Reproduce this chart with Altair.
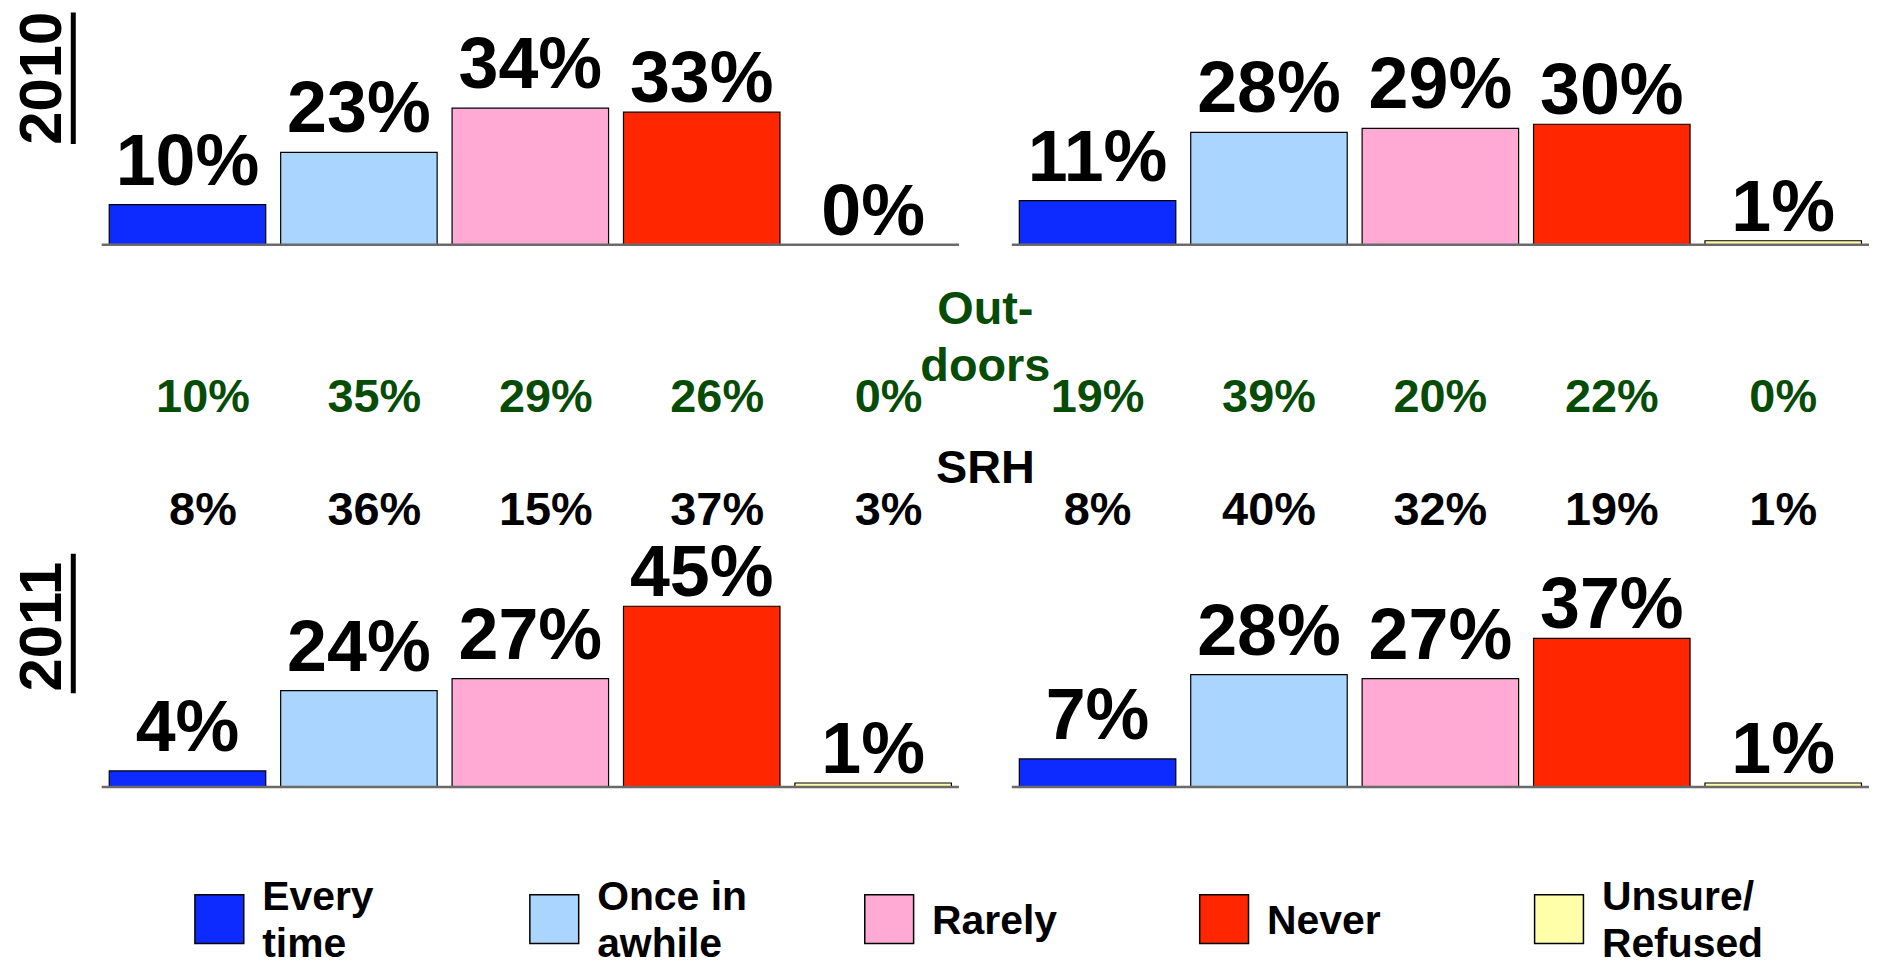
import altair as alt
import pandas as pd

# ---------------- data ----------------
categories = ["Every time", "Once in awhile", "Rarely", "Never", "Unsure/Refused"]
legend_labels = ["Every\ntime", "Once in\nawhile", "Rarely", "Never", "Unsure/\nRefused"]
sides = ["left", "right"]

pct_2010_left = [10, 23, 34, 33, 0]
pct_2010_right = [11, 28, 29, 30, 1]
pct_2011_left = [4, 24, 27, 45, 1]
pct_2011_right = [7, 28, 27, 37, 1]

outdoors_left = [10, 35, 29, 26, 0]
outdoors_right = [19, 39, 20, 22, 0]
srh_left = [8, 36, 15, 37, 3]
srh_right = [8, 40, 32, 19, 1]

measures = ["Outdoors", "SRH"]
year_labels = ["2010", "2011"]

# ---------------- style ----------------
FONT = "Liberation Sans"
bar_colors = ["#0d2bff", "#aad5ff", "#ffaad5", "#ff2600", "#ffffaa"]
GREEN = "#064b06"
TOTAL_W = 1867
TOP_H = 235
MID_H = 297
BOT_H = 247
LEG_H = 167
PX_PER_PCT = 4.03
HEAD_X = 980.5
CLOSE_LABELS = ["Never", "Unsure/Refused"]   # labels sitting closer to their bar


def side_x():
    # two panels of 860 px with a 53 px gap, 94 px reserved on the left
    return alt.X("side:N", sort=sides, axis=None,
                 scale=alt.Scale(type="band", paddingInner=0.05805, paddingOuter=0.05148, align=1))


def cat_offset():
    return alt.XOffset("category:N", sort=categories,
                       scale=alt.Scale(type="band", paddingInner=0.087, paddingOuter=0.044))


def long_df(left, right, name="value"):
    return pd.DataFrame({
        "side": [sides[0]] * len(categories) + [sides[1]] * len(categories),
        "category": categories * 2,
        name: list(left) + list(right),
    })


def year_layers(year, text_y, line_y1, line_y2):
    base = alt.Chart(pd.DataFrame({"year": [year]}))
    t = base.mark_text(angle=270, font=FONT, fontSize=60, fontWeight="bold",
                       align="center", baseline="alphabetic", color="black").encode(
        text="year:N", x=alt.value(53), y=alt.value(text_y))
    r = base.mark_rule(strokeWidth=5, color="black").encode(
        x=alt.value(65.5), y=alt.value(line_y1), y2=alt.value(line_y2))
    return [t, r]


def bar_row(left, right, h, year, text_y, line_y1, line_y2):
    df = long_df(left, right)
    base = alt.Chart(df).transform_calculate(label="datum.value + '%'").encode(
        x=side_x(),
        xOffset=cat_offset(),
        y=alt.Y("value:Q", scale=alt.Scale(domain=[0, h / PX_PER_PCT], nice=False, zero=True), axis=None),
    )
    bars = base.transform_filter(alt.datum.value > 0).mark_bar(
        stroke="black", strokeWidth=1.2
    ).encode(
        color=alt.Color("category:N", sort=categories,
                        scale=alt.Scale(domain=categories, range=bar_colors), legend=None)
    )
    txt = dict(font=FONT, fontSize=72, fontWeight="bold", baseline="alphabetic", color="black")
    close = alt.FieldOneOfPredicate(field="category", oneOf=CLOSE_LABELS)
    lab_far = base.transform_filter({"not": close}).mark_text(dy=-20, **txt).encode(text="label:N")
    lab_close = base.transform_filter(close).mark_text(dy=-10, **txt).encode(text="label:N")
    baseline = alt.Chart(pd.DataFrame({"side": sides})).mark_bar(color="#6a6a6a").encode(
        x=side_x(), y=alt.value(h - 1.25), y2=alt.value(h + 1.25))
    layers = [bars, baseline, lab_far, lab_close] + year_layers(year, text_y, line_y1, line_y2)
    return alt.layer(*layers).properties(width=TOTAL_W, height=h)


def mid_row():
    df = pd.concat([
        long_df(outdoors_left, outdoors_right).assign(measure=measures[0]),
        long_df(srh_left, srh_right).assign(measure=measures[1]),
    ], ignore_index=True)
    base = alt.Chart(df).transform_calculate(label="datum.value + '%'").encode(
        x=side_x(),
        xOffset=cat_offset(),
        y=alt.Y("measure:N", sort=measures, axis=None,
                scale=alt.Scale(type="point", padding=0.814, align=0.913)),
        color=alt.Color("measure:N", sort=measures,
                        scale=alt.Scale(domain=measures, range=[GREEN, "black"]), legend=None),
        text="label:N",
    )
    txt = dict(font=FONT, fontSize=47, fontWeight="bold", baseline="alphabetic")
    v_left = base.transform_filter(alt.datum.side == sides[0]).mark_text(dx=15.5, **txt)
    v_right = base.transform_filter(alt.datum.side == sides[1]).mark_text(dx=0, **txt)
    h1 = alt.Chart(pd.DataFrame({"t": ["Out-\ndoors"]})).mark_text(
        align="center", lineBreak="\n", lineHeight=58, color=GREEN, **txt
    ).encode(text="t:N", x=alt.value(HEAD_X), y=alt.value(79))
    h2 = alt.Chart(pd.DataFrame({"t": ["SRH"]})).mark_text(
        align="center", color="black", **txt
    ).encode(text="t:N", x=alt.value(HEAD_X), y=alt.value(239))
    return alt.layer(v_left, v_right, h1, h2).properties(width=TOTAL_W, height=MID_H)


row1 = bar_row(pct_2010_left, pct_2010_right, TOP_H, year_labels[0], 68, 2, 134)
mid = mid_row()
row2 = bar_row(pct_2011_left, pct_2011_right, BOT_H, year_labels[1], 86, 13, 153)

# ---------------- legend ----------------
leg_df = pd.DataFrame({
    "category": categories,
    "label": legend_labels,
    "lines": [lbl.count("\n") + 1 for lbl in legend_labels],
})
legx = alt.X("category:N", sort=categories,
             scale=alt.Scale(type="point", padding=0.7783, align=0.4054), axis=None)
sw = alt.Chart(leg_df).mark_square(size=49 * 49, stroke="black", strokeWidth=1.5,
                                   opacity=1, filled=True).encode(
    x=legx, y=alt.value(132.5),
    color=alt.Color("category:N", sort=categories,
                    scale=alt.Scale(domain=categories, range=bar_colors), legend=None),
)
ltxt = dict(font=FONT, fontSize=41, fontWeight="bold", align="left", dx=43,
            color="black", baseline="alphabetic")
lt2 = alt.Chart(leg_df).transform_filter(alt.datum.lines > 1).mark_text(
    lineBreak="\n", lineHeight=48, **ltxt
).encode(x=legx, y=alt.value(123), text="label:N")
lt1 = alt.Chart(leg_df).transform_filter(alt.datum.lines == 1).mark_text(
    **ltxt
).encode(x=legx, y=alt.value(147), text="label:N")
legend = alt.layer(sw, lt2, lt1).properties(width=TOTAL_W, height=LEG_H)

chart = (
    alt.vconcat(row1, mid, row2, legend, spacing=0, bounds="flush")
    .resolve_scale(color="independent", x="independent", y="independent")
    .properties(padding=0)
    .configure_view(strokeWidth=0)
)

chart.save("out.html", embed_options={"renderer": "svg", "actions": False})
